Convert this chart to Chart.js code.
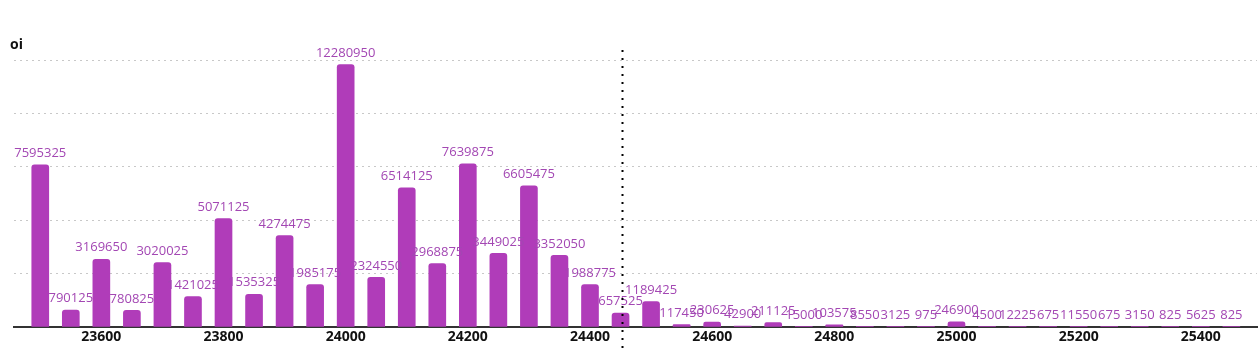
<!DOCTYPE html>
<html>
<head>
<meta charset="utf-8">
<script src="https://cdn.jsdelivr.net/npm/chart.js@4.4.1/dist/chart.umd.min.js"></script>
<style>
  html, body { margin: 0; padding: 0; background: #ffffff; }
  #wrap { width: 1259px; height: 354px; position: relative; }
</style>
</head>
<body>
<div id="wrap"><canvas id="c" width="1259" height="354"></canvas></div>
<script>
const strikes = [23500, 23550, 23600, 23650, 23700, 23750, 23800, 23850, 23900, 23950,
                 24000, 24050, 24100, 24150, 24200, 24250, 24300, 24350, 24400, 24450,
                 24500, 24550, 24600, 24650, 24700, 24750, 24800, 24850, 24900, 24950,
                 25000, 25050, 25100, 25150, 25200, 25250, 25300, 25350, 25400, 25450];
const oiValues = [7595325, 790125, 3169650, 780825, 3020025, 1421025, 5071125, 1535325, 4274475, 1985175,
                  12280950, 2324550, 6514125, 2968875, 7639875, 3449025, 6605475, 3352050, 1988775, 657525,
                  1189425, 117450, 230625, 42900, 211125, 15000, 103575, 8550, 3125, 975,
                  246900, 4500, 12225, 675, 11550, 675, 3150, 825, 5625, 825];
const xTickValues = [23600, 23800, 24000, 24200, 24400, 24600, 24800, 25000, 25200, 25400];
const spotPrice = 24452;
const yAxisTitle = 'oi';

const barColor = '#b03cb9';
const labelColor = '#a347b3';

const valueLabels = {
  id: 'valueLabels',
  afterDatasetsDraw(chart) {
    const ctx = chart.ctx;
    const meta = chart.getDatasetMeta(0);
    ctx.save();
    ctx.fillStyle = labelColor;
    ctx.font = '13px "Open Sans", sans-serif';
    ctx.textAlign = 'center';
    ctx.textBaseline = 'bottom';
    meta.data.forEach((bar, i) => {
      ctx.fillText(String(oiValues[i]), bar.x, bar.y - 5);
    });
    ctx.restore();
  }
};

const spotLine = {
  id: 'spotLine',
  afterDraw(chart) {
    const ctx = chart.ctx;
    const x = Math.round(chart.scales.x.getPixelForValue(spotPrice)) + 0.5;
    ctx.save();
    ctx.strokeStyle = '#000000';
    ctx.lineWidth = 2;
    ctx.setLineDash([2, 6]);
    ctx.beginPath();
    ctx.moveTo(x, 50);
    ctx.lineTo(x, chart.height);
    ctx.stroke();
    ctx.restore();
  }
};

const titleText = {
  id: 'titleText',
  afterDraw(chart) {
    const ctx = chart.ctx;
    ctx.save();
    ctx.fillStyle = '#111111';
    ctx.font = 'bold 14px "Open Sans", sans-serif';
    ctx.textAlign = 'left';
    ctx.textBaseline = 'middle';
    ctx.fillText(yAxisTitle, 10, 45);
    ctx.restore();
  }
};

new Chart(document.getElementById('c'), {
  type: 'bar',
  data: {
    datasets: [{
      data: strikes.map((s, i) => ({ x: s, y: oiValues[i] })),
      backgroundColor: barColor,
      borderRadius: 3,
      borderSkipped: 'bottom',
      barThickness: 17
    }]
  },
  options: {
    responsive: false,
    animation: false,
    layout: { padding: { top: 60, left: 14, right: 2, bottom: 0 } },
    plugins: { legend: { display: false }, tooltip: { enabled: false }, title: { display: false } },
    scales: {
      x: {
        type: 'linear',
        offset: false,
        min: 23457,
        max: 25492,
        afterBuildTicks: (scale) => { scale.ticks = xTickValues.map(v => ({ value: v })); },
        afterFit: (scale) => { scale.height = 27; },
        grid: { display: false, drawTicks: false, offset: false },
        border: { display: true, color: '#333333', width: 2 },
        ticks: {
          color: '#111111',
          font: { family: '"Open Sans", sans-serif', size: 14, weight: 'bold' },
          padding: 2,
          autoSkip: false,
          maxRotation: 0,
          callback: (v) => String(v)
        }
      },
      y: {
        min: 0,
        max: 12500000,
        afterFit: (scale) => { scale.width = 0; },
        ticks: { display: false, stepSize: 2500000 },
        border: { display: false, dash: [2, 4] },
        grid: { color: '#c8c8c8', lineWidth: 1, drawTicks: false }
      }
    }
  },
  plugins: [valueLabels, spotLine, titleText]
});
</script>
</body>
</html>
